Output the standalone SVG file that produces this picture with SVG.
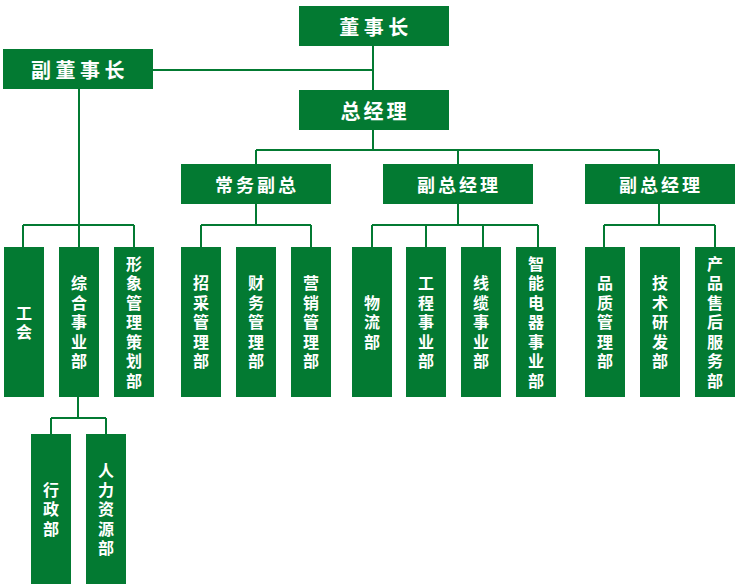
<svg xmlns="http://www.w3.org/2000/svg" width="738" height="588" viewBox="0 0 738 588">
<style>
.b{fill:#037a32}
.t{fill:#fff;font-family:"Noto Sans CJK SC","Noto Sans",sans-serif;font-weight:bold;text-anchor:middle}
.h{font-size:18px;letter-spacing:3px;dominant-baseline:central}
.h2{font-size:20px;letter-spacing:4.5px;dominant-baseline:central}
.v{font-size:16px;writing-mode:vertical-rl;letter-spacing:3.5px}
.c{fill:none;stroke:#037a32;stroke-width:2}
</style>
<rect width="738" height="588" fill="#fff"/>
<g id="connectors" class="c">
<path d="M373 46V90M153 70H373M373 130V150M256 150H659M256 150V164M458 150V164M659 150V164"/>
<path d="M79 89V225M23 225H134M23 225V247M79 225V247M134 225V247"/>
<path d="M256 204V225M201 225H311M201 225V247M311 225V247"/>
<path d="M458 204V225M372 225H538M372 225V247M426 225V247M483 225V247M538 225V247"/>
<path d="M659 204V225M604 225H715M604 225V247M715 225V247"/>
<path d="M78 397V418M51 418H106M51 418V434M106 434V418"/>
</g>
<g id="n-dsz"><rect class="b" x="299" y="6" width="150" height="40"/><text class="t h2" x="376" y="26">董事长</text></g>
<g id="n-fdsz"><rect class="b" x="3" y="49" width="150" height="40"/><text class="t h2" x="80" y="69">副董事长</text></g>
<g id="n-zjl"><rect class="b" x="299" y="90" width="150" height="40"/><text class="t h2" style="letter-spacing:3px" x="375" y="110">总经理</text></g>
<g id="n-cwfz"><rect class="b" x="181" y="164" width="150" height="40"/><text class="t h" x="257" y="184">常务副总</text></g>
<g id="n-fzjl1"><rect class="b" x="383" y="164" width="150" height="40"/><text class="t h" x="459" y="184">副总经理</text></g>
<g id="n-fzjl2"><rect class="b" x="585" y="164" width="150" height="40"/><text class="t h" x="661" y="184">副总经理</text></g>

<g id="n-gh"><rect class="b" x="4" y="247" width="40" height="150"/><text class="t v" x="24" y="324">工会</text></g>
<g id="n-zhsyb"><rect class="b" x="59" y="247" width="40" height="150"/><text class="t v" x="79" y="324">综合事业部</text></g>
<g id="n-xxglchb"><rect class="b" x="114" y="247" width="40" height="150"/><text class="t v" x="134" y="324">形象管理策划部</text></g>
<g id="n-zcglb"><rect class="b" x="181" y="247" width="40" height="150"/><text class="t v" x="201" y="324">招采管理部</text></g>
<g id="n-cwglb"><rect class="b" x="236" y="247" width="40" height="150"/><text class="t v" x="256" y="324">财务管理部</text></g>
<g id="n-yxglb"><rect class="b" x="291" y="247" width="40" height="150"/><text class="t v" x="311" y="324">营销管理部</text></g>
<g id="n-wlb"><rect class="b" x="352" y="247" width="40" height="150"/><text class="t v" x="372" y="324">物流部</text></g>
<g id="n-gcsyb"><rect class="b" x="406" y="247" width="40" height="150"/><text class="t v" x="426" y="324">工程事业部</text></g>
<g id="n-xlsyb"><rect class="b" x="461" y="247" width="40" height="150"/><text class="t v" x="481" y="324">线缆事业部</text></g>
<g id="n-zndqsyb"><rect class="b" x="516" y="247" width="40" height="150"/><text class="t v" x="536" y="324">智能电器事业部</text></g>
<g id="n-pzglb"><rect class="b" x="585" y="247" width="40" height="150"/><text class="t v" x="605" y="324">品质管理部</text></g>
<g id="n-jsyfb"><rect class="b" x="640" y="247" width="40" height="150"/><text class="t v" x="660" y="324">技术研发部</text></g>
<g id="n-cpshfwb"><rect class="b" x="695" y="247" width="40" height="150"/><text class="t v" x="715" y="324">产品售后服务部</text></g>
<g id="n-xzb"><rect class="b" x="31" y="434" width="40" height="150"/><text class="t v" x="51" y="511">行政部</text></g>
<g id="n-rlzyb"><rect class="b" x="86" y="434" width="40" height="150"/><text class="t v" x="106" y="511">人力资源部</text></g>
</svg>
